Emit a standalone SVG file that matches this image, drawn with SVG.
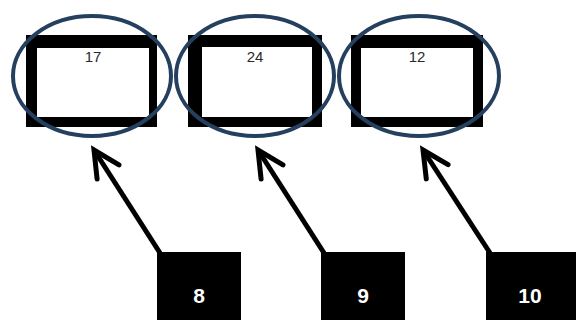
<svg xmlns="http://www.w3.org/2000/svg" width="576" height="320" viewBox="0 0 576 320">
<style>
.outer{fill:#000}
.inner{fill:#fff}
.ring{fill:none;stroke:#253f5e;stroke-width:4}
.num{font-family:"Liberation Sans",Arial,sans-serif;font-size:15px;fill:#2a2a2a;text-anchor:middle}
.lab{fill:#000}
.labt{font-family:"Liberation Sans",Arial,sans-serif;font-size:21px;font-weight:bold;fill:#fff;text-anchor:middle}
.arr{fill:none;stroke:#000;stroke-width:5;marker-end:url(#head)}
</style>
<defs>
<marker id="head" markerUnits="userSpaceOnUse" markerWidth="60" markerHeight="60" refX="0" refY="0" orient="auto" overflow="visible">
<path d="M-26,-13 L0,0 L-26,13" fill="none" stroke="#000" stroke-width="5" stroke-linecap="round" stroke-linejoin="miter"/>
</marker>
</defs>
<g id="node-17">
<rect class="outer" x="26" y="35" width="131" height="92"/>
<rect class="inner" x="37" y="48" width="112" height="69"/>
<ellipse class="ring" cx="92" cy="76" rx="79" ry="60"/>
<text class="num" x="93" y="62">17</text>
</g>
<g id="node-24">
<rect class="outer" x="188" y="35" width="134" height="92"/>
<rect class="inner" x="202" y="47" width="110" height="70"/>
<ellipse class="ring" cx="255" cy="76" rx="79" ry="60"/>
<text class="num" x="255" y="62">24</text>
</g>
<g id="node-12">
<rect class="outer" x="351" y="35" width="132" height="92"/>
<rect class="inner" x="361" y="48" width="112" height="69"/>
<ellipse class="ring" cx="419" cy="76" rx="80" ry="60"/>
<text class="num" x="417" y="62">12</text>
</g>
<g id="label-8">
<rect class="lab" x="157" y="252" width="84" height="68"/>
<text class="labt" x="199" y="303">8</text>
</g>
<g id="label-9">
<rect class="lab" x="321" y="252" width="84" height="68"/>
<text class="labt" x="363" y="303">9</text>
</g>
<g id="label-10">
<rect class="lab" x="486" y="252" width="90" height="68"/>
<text class="labt" x="530" y="303">10</text>
</g>
<g id="connectors">
<line class="arr" x1="160" y1="253" x2="94" y2="150"/>
<line class="arr" x1="324" y1="253" x2="258" y2="150"/>
<line class="arr" x1="490" y1="253" x2="423" y2="150"/>
</g>
</svg>
